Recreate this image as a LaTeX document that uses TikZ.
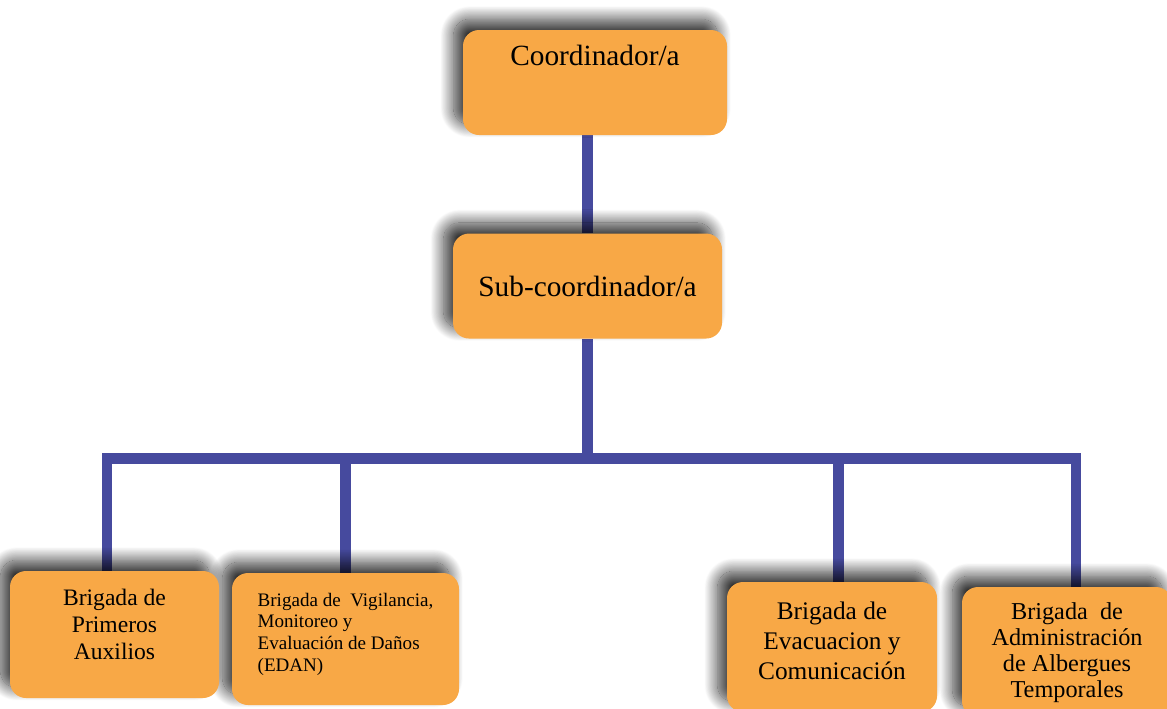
\documentclass[tikz,border=0pt]{standalone}
\usepackage{fontspec}
\setmainfont{Liberation Serif}
\usetikzlibrary{positioning,shadows.blur,backgrounds}
\definecolor{boxorange}{RGB}{248,168,70}
\definecolor{linkblue}{RGB}{70,74,158}
\begin{document}
\begin{tikzpicture}[x=0.75pt,y=-0.75pt,
unit/.style={
rectangle,
fill=boxorange,
rounded corners=12pt,
blur shadow={shadow xshift=-7pt,shadow yshift=8pt,shadow blur radius=10pt,shadow blur steps=24,shadow opacity=80}
},
link/.style={
draw=linkblue,
line width=8pt
},
caption/.style={
inner sep=0pt,
align=center
},
]
\useasboundingbox (0,0) rectangle (1167,708);

\node (coord) [unit, minimum width=198pt, minimum height=78.75pt] at (595,82.5) {};
\node (coordtxt) [caption, below=11pt of coord.north, font=\fontsize{22}{26}\selectfont] {Coordinador/a};
\node (sub) [unit, below=73.5pt of coord, xshift=-5.6pt, minimum width=201.75pt, minimum height=78.75pt,
  font=\fontsize{22}{26}\selectfont] {Sub-coordinador/a};

% right to left, so that no shadow falls on a box
\node (alb) [unit, minimum width=157.5pt, minimum height=97.5pt] at (1067,652) {};
\node (albtxt) [caption, below=12pt of alb.north, font=\fontsize{18.2}{19.5}\selectfont] {Brigada~ de\\Administración\\de Albergues\\Temporales};
\node (evac) [unit, minimum width=157.5pt, minimum height=97.5pt] at (832,647) {};
\node (evactxt) [caption, below=15pt of evac.north, font=\fontsize{19}{22.5}\selectfont] {Brigada de\\Evacuacion y\\Comunicación};
\node (edan) [unit, minimum width=170.25pt, minimum height=99pt] at (345.5,639) {};
\node (edantxt) [caption, align=left, below=15pt of edan.north, font=\fontsize{14.3}{16.3}\selectfont]
  {Brigada de~ Vigilancia,\\Monitoreo y\\Evaluación de Daños\\(EDAN)};
\node (aux) [unit, minimum width=156.75pt, minimum height=95.25pt] at (114.5,634.5) {};
\node (auxtxt) [caption, below=13.5pt of aux.north, font=\fontsize{17.7}{20.3}\selectfont] {Brigada de\\Primeros\\Auxilios};

\begin{scope}[on background layer]
\draw[link] (sub.north) -- (sub.north |- coord.south);
\draw[link] (sub.south) -- ++(0,120) coordinate (hub);
\draw[link] ([xshift=-5.6pt]aux.north) |- (hub) -| ([xshift=6.75pt]alb.north);
\draw[link] (edan.north) |- (hub);
\draw[link] ([xshift=4.9pt]evac.north) |- (hub);
\end{scope}
\end{tikzpicture}
\end{document}
